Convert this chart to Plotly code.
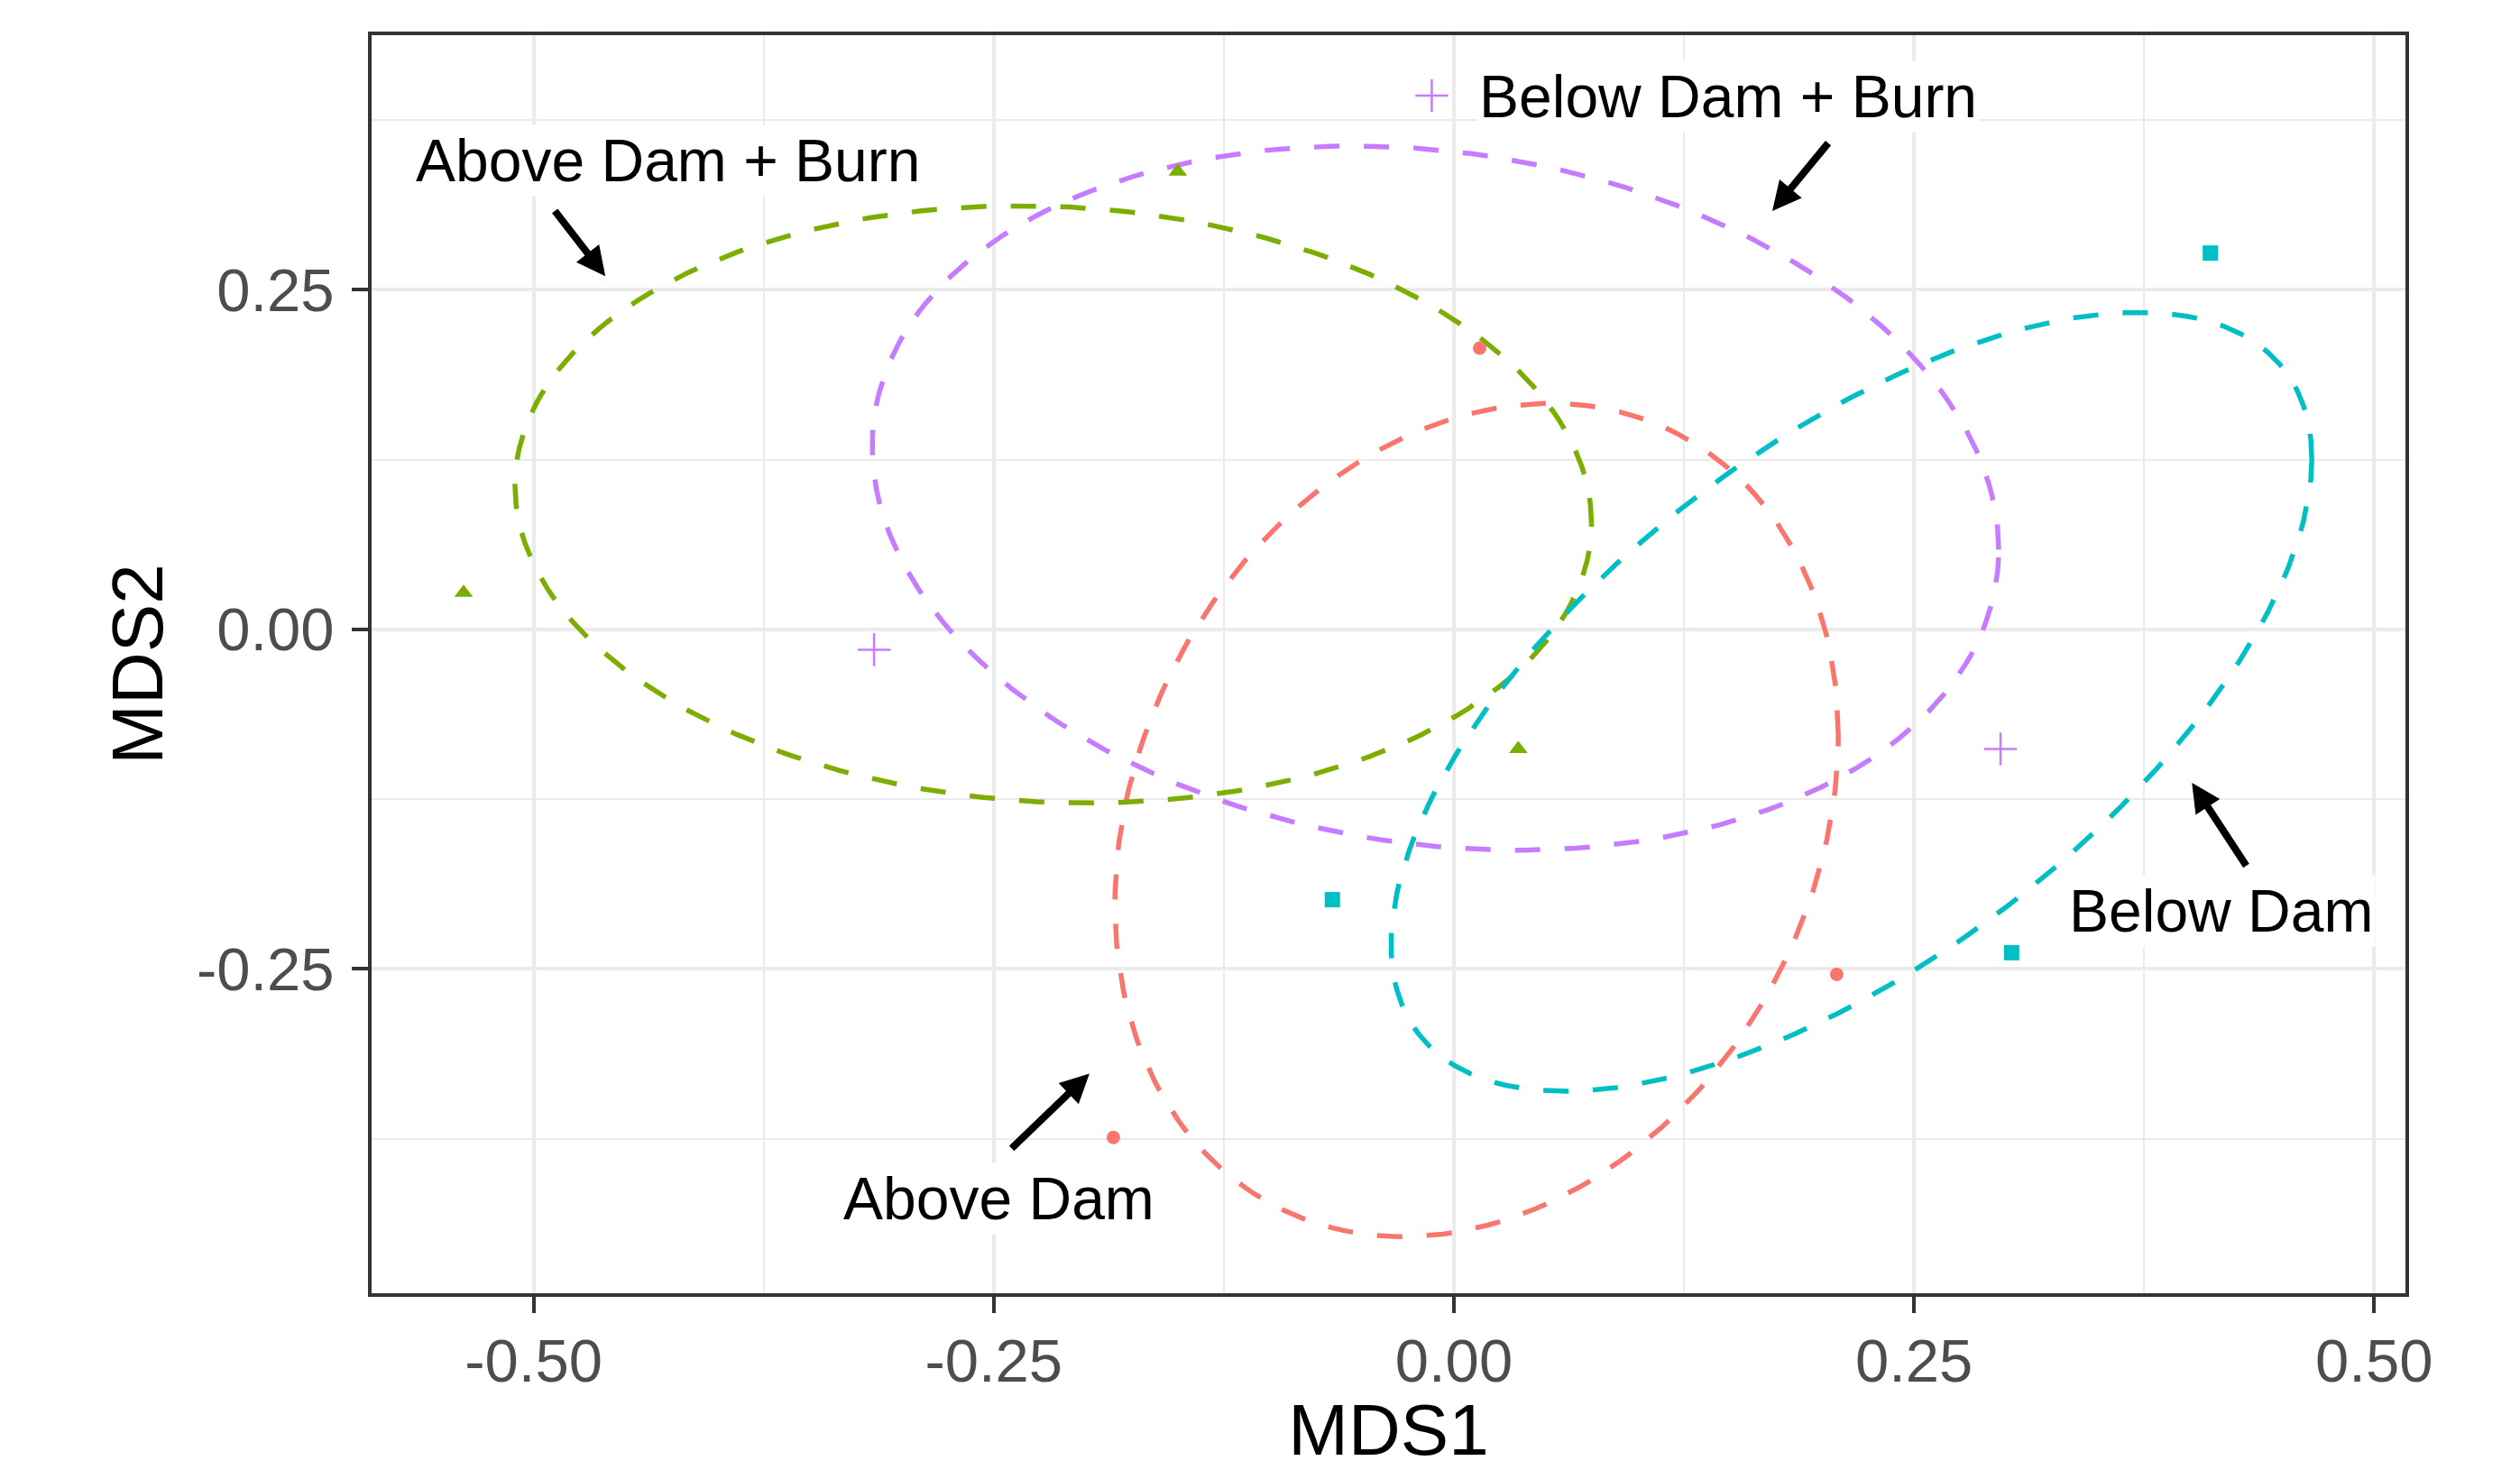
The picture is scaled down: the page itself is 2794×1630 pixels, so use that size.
import numpy as np
import plotly.graph_objects as go

# ---- data ----
groups = ["Above Dam", "Above Dam + Burn", "Below Dam", "Below Dam + Burn"]
colors = ["#F8766D", "#7CAE00", "#00BFC4", "#C77CFF"]
symbols = ["circle", "triangle-up", "square", "cross-thin"]

above_dam_x = [0.014, 0.208, -0.185]
above_dam_y = [0.207, -0.254, -0.374]
above_burn_x = [-0.538, 0.035, -0.150]
above_burn_y = [0.027, -0.088, 0.337]
below_dam_x = [0.411, -0.066, 0.303]
below_dam_y = [0.277, -0.199, -0.238]
below_burn_x = [-0.315, 0.297, -0.012]
below_burn_y = [-0.015, -0.088, 0.393]

xs = [above_dam_x, above_burn_x, below_dam_x, below_burn_x]
ys = [above_dam_y, above_burn_y, below_dam_y, below_burn_y]

# label annotations: text, position
label_text = ["Above Dam + Burn", "Below Dam + Burn", "Below Dam", "Above Dam"]
label_x = [-0.427, 0.149, 0.417, -0.247]
label_y = [0.345, 0.392, -0.207, -0.419]

# arrows: tail -> head
arrow_tail_x = [-0.489, 0.204, 0.431, -0.241]
arrow_tail_y = [0.309, 0.359, -0.175, -0.383]
arrow_head_x = [-0.461, 0.173, 0.401, -0.198]
arrow_head_y = [0.260, 0.308, -0.113, -0.327]

x_ticks = [-0.5, -0.25, 0.0, 0.25, 0.5]
x_ticklabels = ["-0.50", "-0.25", "0.00", "0.25", "0.50"]
y_ticks = [-0.25, 0.0, 0.25]
y_ticklabels = ["-0.25", "0.00", "0.25"]


def sd_ellipse(x, y, n=200):
    """1-SD covariance ellipse (as vegan::ordiellipse kind='sd')."""
    pts = np.column_stack([x, y])
    center = pts.mean(axis=0)
    cov = np.cov(pts, rowvar=False)
    L = np.linalg.cholesky(cov)
    t = np.linspace(0, 2 * np.pi, n + 1)
    circ = np.vstack([np.cos(t), np.sin(t)])
    e = center[:, None] + L @ circ
    return e[0], e[1]


fig = go.Figure()

for g, c, s, x, y in zip(groups, colors, symbols, xs, ys):
    ex, ey = sd_ellipse(x, y)
    fig.add_trace(go.Scatter(x=ex, y=ey, mode="lines",
                             line=dict(color=c, width=5.5, dash="28px,27px"),
                             hoverinfo="skip", showlegend=False))

for g, c, s, x, y in zip(groups, colors, symbols, xs, ys):
    if s == "cross-thin":
        marker = dict(symbol=s, size=26, line=dict(color=c, width=2.5), color=c)
    elif s == "triangle-up":
        marker = dict(symbol=s, size=18, color=c, line=dict(width=0))
    elif s == "square":
        marker = dict(symbol=s, size=17, color=c, line=dict(width=0))
    else:
        marker = dict(symbol=s, size=15, color=c, line=dict(width=0))
    fig.add_trace(go.Scatter(x=x, y=y, mode="markers", marker=marker,
                             name=g, showlegend=False))

annotations = []
for tx, hx, ty, hy in zip(arrow_tail_x, arrow_head_x, arrow_tail_y, arrow_head_y):
    annotations.append(dict(x=hx, y=hy, ax=tx, ay=ty, xref="x", yref="y",
                            axref="x", ayref="y", text="", showarrow=True,
                            arrowhead=2, arrowsize=0.8, arrowwidth=8,
                            arrowcolor="black", standoff=0, startstandoff=0))
for t, x, y in zip(label_text, label_x, label_y):
    annotations.append(dict(x=x, y=y, xref="x", yref="y", text=t,
                            showarrow=False, bgcolor="white", borderpad=2,
                            font=dict(family="Liberation Sans", size=66,
                                      color="black")))

grid = "#EBEBEB"
axis_common = dict(showgrid=True, gridcolor=grid, gridwidth=4,
                   zeroline=False, showline=True, linecolor="#333333",
                   linewidth=4, mirror=True, ticks="outside", ticklen=18,
                   tickwidth=4, tickcolor="#333333",
                   tickfont=dict(family="Liberation Sans", size=67,
                                 color="#4D4D4D"))

fig.update_layout(
    width=2794, height=1630,
    margin=dict(l=412, r=127, t=39, b=196, autoexpand=False),
    paper_bgcolor="white", plot_bgcolor="white",
    annotations=annotations,
    xaxis=dict(range=[-0.588, 0.517], tickvals=x_ticks, ticktext=x_ticklabels,
               minor=dict(tickvals=[-0.375, -0.125, 0.125, 0.375],
                          showgrid=True, gridcolor=grid, gridwidth=2, ticks=""),
               ticklabelstandoff=-4,
               title=dict(text="MDS1", standoff=22,
                          font=dict(family="Liberation Sans", size=80,
                                    color="black")),
               automargin=False, **axis_common),
    yaxis=dict(range=[-0.4887, 0.4374], tickvals=y_ticks, ticktext=y_ticklabels,
               minor=dict(tickvals=[-0.375, -0.125, 0.125, 0.375],
                          showgrid=True, gridcolor=grid, gridwidth=2, ticks=""),
               ticklabelstandoff=6,
               title=dict(text="MDS2", standoff=12,
                          font=dict(family="Liberation Sans", size=80,
                                    color="black")),
               automargin=False, **axis_common),
)

fig.write_html("out.html",
               config={"displayModeBar": False},
               post_script="document.body.style.margin='0px';"
                           "document.body.style.overflow='hidden';")
